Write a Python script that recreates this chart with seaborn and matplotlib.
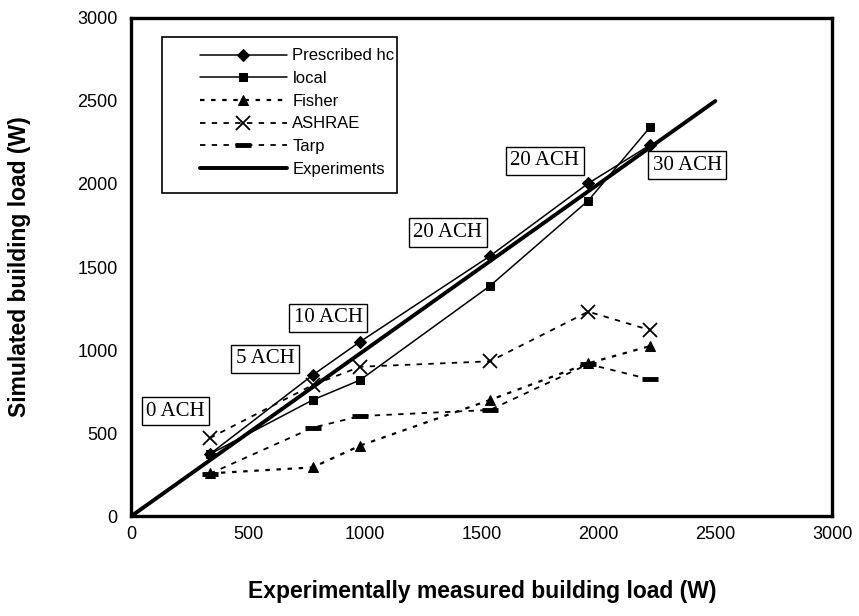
import matplotlib
matplotlib.use("Agg")
import matplotlib.pyplot as plt
import seaborn as sns
import pandas as pd
from matplotlib.patches import Rectangle

# ---- data ----
measured = [336, 776, 979, 1535, 1956, 2221]
prescribed_hc = [373, 849, 1050, 1566, 2004, 2235]
local = [373, 699, 819, 1386, 1900, 2343]
fisher = [257, 293, 424, 699, 920, 1024]
ashrae = [470, 789, 899, 932, 1231, 1120]
tarp = [255, 532, 602, 639, 915, 823]
exp_x = [0, 2500]
exp_y = [0, 2500]

annot_labels = ["0 ACH", "5 ACH", "10 ACH", "20 ACH", "20 ACH", "30 ACH"]
annot_x = [189, 572, 843, 1355, 1769, 2379]
annot_y = [632, 946, 1193, 1708, 2140, 2114]

xticks = [0, 500, 1000, 1500, 2000, 2500, 3000]
yticks = [0, 500, 1000, 1500, 2000, 2500, 3000]

sns.set_theme(style="white")
plt.rcParams["font.family"] = ["Liberation Sans", "DejaVu Sans"]
plt.rcParams["text.color"] = "black"
plt.rcParams["axes.labelcolor"] = "black"
plt.rcParams["xtick.color"] = "black"
plt.rcParams["ytick.color"] = "black"

fig = plt.figure(figsize=(8.59, 6.16), dpi=100)
ax = fig.add_axes([0.153, 0.1623, 0.8157, 0.8085])

series = [
    ("Prescribed hc", prescribed_hc, dict(marker="D", markersize=6, linestyle="-", linewidth=1.1)),
    ("local", local, dict(marker="s", markersize=6, linestyle="-", linewidth=1.1)),
    ("Fisher", fisher, dict(marker="^", markersize=7, linestyle=(0, (2, 3)), linewidth=1.6)),
    ("ASHRAE", ashrae, dict(marker="x", markersize=10, markeredgewidth=1.3, linestyle=(0, (3, 3.5)), linewidth=1.3)),
    ("Tarp", tarp, dict(marker="_", markersize=11, markeredgewidth=3.5, linestyle=(0, (3, 3.5)), linewidth=1.3)),
]
for name, vals, kw in series:
    df = pd.DataFrame({"x": measured, "y": vals})
    sns.lineplot(data=df, x="x", y="y", ax=ax, color="black", label=name,
                 errorbar=None, markeredgecolor="black", **kw)

dfe = pd.DataFrame({"x": exp_x, "y": exp_y})
sns.lineplot(data=dfe, x="x", y="y", ax=ax, color="black", linewidth=2.8,
             label="Experiments", errorbar=None)

for t, x, y in zip(annot_labels, annot_x, annot_y):
    ax.text(x, y, t, ha="center", va="center", fontsize=15, color="black",
            family=["Liberation Serif", "DejaVu Serif"],
            bbox=dict(boxstyle="square,pad=0.22", fc="white", ec="black", lw=1.0))

ax.set_xlim(0, 3000)
ax.set_ylim(0, 3000)
ax.set_xticks(xticks)
ax.set_yticks(yticks)
ax.tick_params(direction="in", length=5, width=1, colors="black", labelsize=13)
ax.tick_params(axis="y", pad=10)
ax.tick_params(axis="x", pad=7)
for s in ax.spines.values():
    s.set_linewidth(2.4)
    s.set_color("black")

ax.set_xlabel("Experimentally measured building load (W)", fontsize=16.5,
              fontweight="bold", labelpad=27, color="black")
ax.set_ylabel("Simulated building load (W)", fontsize=16.5, fontweight="bold",
              labelpad=33, color="black")

# legend box
ax.add_patch(Rectangle((0.0435, 0.6486), 0.3355, 0.3134, transform=ax.transAxes,
                       fill=True, fc="white", ec="black", lw=1.2, zorder=4))
leg = ax.legend(loc="upper left", bbox_to_anchor=(0.0978, 0.939), frameon=False,
                fontsize=12, handlelength=5.2, handletextpad=0.35, labelspacing=0.46,
                borderpad=0, borderaxespad=0)
leg.set_zorder(5)
for t in leg.get_texts():
    t.set_color("black")

fig.savefig("out.png", dpi=100)
